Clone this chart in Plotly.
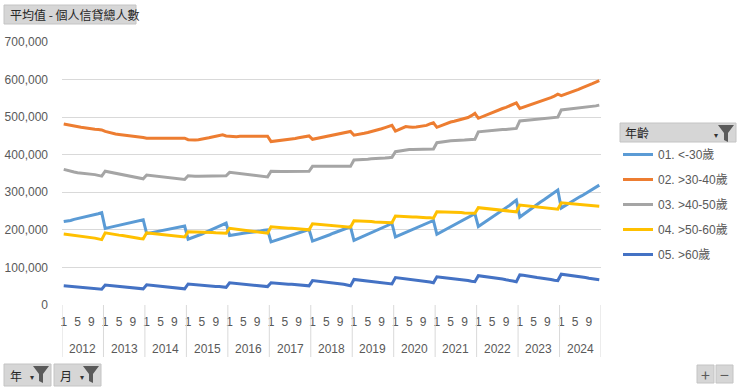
import plotly.graph_objects as go

# ---------------- data (thousands of persons) ----------------
years = [2012, 2013, 2014, 2015, 2016, 2017, 2018, 2019, 2020, 2021, 2022, 2023, 2024]
months = [1, 2, 3, 4, 5, 6, 7, 8, 9, 10, 11, 12]
month_ticks = [1, 5, 9]

age_under30 = [
    222, 223, 225, 228, 230, 232, 234, 236, 239, 241, 243, 246,
    204, 206, 208, 210, 212, 214, 216, 218, 220, 222, 224, 227,
    190, 192, 193, 195, 197, 198, 200, 202, 204, 206, 208, 210,
    175, 178, 181, 185, 189, 193, 197, 201, 205, 209, 213, 218,
    185, 187, 188, 189, 191, 192, 193, 195, 196, 197, 199, 200,
    168, 171, 174, 177, 180, 183, 186, 189, 192, 195, 198, 201,
    170, 173, 177, 180, 184, 187, 191, 194, 198, 201, 205, 208,
    172, 176, 180, 184, 188, 192, 196, 200, 204, 208, 213, 217,
    181, 185, 189, 193, 197, 201, 205, 209, 213, 217, 221, 225,
    188, 193, 198, 203, 208, 213, 218, 223, 228, 233, 238, 243,
    209, 215, 221, 228, 234, 241, 247, 253, 259, 265, 272, 279,
    234, 241, 247, 254, 261, 267, 274, 280, 287, 293, 300, 306,
    258, 264, 269, 275, 280, 286, 291, 297, 302, 308, 313, 319,
]
age_30_40 = [
    482, 480, 477, 476, 475, 473, 472, 470, 469, 468, 467, 466,
    462, 459, 457, 455, 454, 453, 452, 451, 450, 449, 447, 446,
    444, 444, 443, 443, 443, 443, 443, 443, 443, 443, 443, 444,
    440, 439, 439, 440, 441, 443, 445, 447, 449, 451, 453, 450,
    449, 448, 448, 449, 449, 449, 449, 449, 449, 449, 450, 449,
    435, 436, 437, 438, 440, 441, 442, 443, 445, 446, 448, 450,
    441, 443, 444, 446, 448, 450, 452, 454, 456, 458, 460, 462,
    452, 453, 455, 457, 459, 461, 463, 466, 469, 472, 475, 478,
    463, 467, 471, 475, 474, 473, 474, 475, 476, 478, 482, 485,
    473, 477, 481, 485, 487, 489, 491, 493, 495, 499, 504, 510,
    497, 501, 505, 508, 512, 516, 519, 523, 526, 530, 534, 538,
    523, 526, 529, 532, 535, 538, 541, 544, 548, 552, 556, 561,
    557, 560, 564, 567, 571, 574, 578, 581, 585, 589, 593, 597,
]
age_40_50 = [
    361, 358, 356, 354, 352, 351, 351, 350, 349, 347, 345, 343,
    356, 354, 352, 350, 348, 346, 344, 343, 341, 339, 337, 336,
    346, 345, 345, 344, 342, 341, 340, 338, 337, 336, 335, 334,
    344, 343, 343, 343, 343, 343, 343, 343, 343, 344, 344, 344,
    353, 352, 352, 351, 350, 348, 347, 346, 344, 343, 342, 341,
    356, 355, 355, 355, 355, 355, 355, 355, 355, 355, 356, 356,
    369, 369, 368, 368, 368, 368, 368, 368, 368, 368, 368, 369,
    386, 386, 387, 387, 388, 389, 389, 390, 391, 391, 392, 393,
    408, 410, 412, 414, 414, 414, 414, 414, 414, 414, 415, 415,
    432, 434, 435, 436, 437, 437, 438, 438, 439, 440, 440, 441,
    461, 462, 463, 464, 465, 465, 466, 467, 467, 468, 469, 470,
    490, 491, 492, 493, 494, 494, 495, 496, 497, 498, 499, 500,
    519, 520, 521, 522, 523, 524, 525, 526, 527, 529, 530, 532,
]
age_50_60 = [
    189, 188, 187, 186, 185, 184, 183, 181, 180, 178, 176, 174,
    192, 190, 189, 187, 186, 185, 183, 182, 180, 179, 177, 176,
    192, 191, 190, 189, 188, 187, 186, 185, 184, 183, 182, 181,
    195, 195, 194, 194, 194, 193, 193, 193, 192, 192, 191, 191,
    204, 203, 202, 201, 200, 199, 198, 197, 195, 194, 193, 191,
    208, 207, 207, 206, 205, 204, 204, 203, 202, 201, 201, 200,
    216, 215, 215, 214, 213, 212, 211, 210, 210, 209, 208, 207,
    224, 224, 223, 223, 222, 222, 221, 221, 220, 220, 219, 219,
    237, 236, 236, 235, 235, 234, 234, 233, 233, 232, 232, 231,
    248, 248, 247, 247, 247, 246, 246, 246, 245, 245, 244, 244,
    259, 258, 257, 256, 255, 254, 253, 252, 251, 250, 249, 248,
    266, 265, 264, 263, 262, 261, 260, 259, 258, 257, 256, 255,
    272, 271, 270, 269, 268, 268, 267, 266, 265, 265, 264, 263,
]
age_over60 = [
    51, 50, 50, 49, 48, 48, 47, 46, 45, 44, 43, 42,
    53, 52, 51, 50, 50, 49, 48, 47, 46, 45, 44, 43,
    54, 53, 52, 51, 50, 49, 48, 47, 46, 45, 44, 43,
    56, 55, 54, 54, 53, 52, 51, 50, 49, 49, 48, 47,
    59, 58, 57, 56, 55, 54, 53, 52, 52, 51, 50, 49,
    59, 58, 58, 57, 56, 55, 55, 54, 53, 52, 52, 51,
    65, 64, 63, 62, 61, 60, 59, 58, 57, 55, 53, 51,
    68, 67, 66, 65, 64, 63, 62, 61, 60, 58, 57, 56,
    73, 72, 70, 69, 68, 67, 66, 65, 63, 62, 61, 59,
    75, 74, 73, 72, 71, 70, 68, 67, 66, 65, 63, 62,
    78, 77, 75, 74, 73, 71, 70, 69, 67, 66, 64, 62,
    80, 79, 77, 76, 75, 73, 72, 71, 69, 68, 66, 65,
    82, 81, 80, 78, 77, 76, 74, 73, 71, 70, 68, 67,
]

series_names = ["01. <-30歲", "02. >30-40歲", "03. >40-50歲", "04. >50-60歲", "05. >60歲"]
series_values = [age_under30, age_30_40, age_40_50, age_50_60, age_over60]
series_colors = ["#5B9BD5", "#ED7D31", "#A5A5A5", "#FFC000", "#4472C4"]

y_ticks = [0, 100000, 200000, 300000, 400000, 500000, 600000, 700000]

# ---------------- geometry helpers ----------------
W, H = 740, 391
L, R, T, B = 62, 601, 42, 305


def px(xp):
    return (xp - L) / (R - L)


def py(yp):
    return (B - yp) / (B - T)


FONT = "Liberation Sans, Noto Sans CJK TC, sans-serif"
CJK = "Noto Sans CJK TC, sans-serif"
GREY_TXT = "#595959"

idx = list(range(len(years) * len(months)))
month_of = [months[i % 12] for i in idx]

fig = go.Figure()
for name, vals, col in zip(series_names, series_values, series_colors):
    fig.add_trace(go.Scatter(
        x=idx, y=[v * 1000 for v in vals], mode="lines", name=name,
        legendgroup=name,
        line=dict(color=col, width=3),
    ))

tickvals = [i for i in idx if month_of[i] in month_ticks]
ticktext = [str(month_of[i]) for i in tickvals]

shapes = []
annotations = []

# year separators and year labels
for k, yr in enumerate(years + [None]):
    xb = k * 12 - 0.5
    shapes.append(dict(type="line", xref="x", yref="paper", x0=xb, x1=xb,
                       y0=0, y1=py(357), line=dict(color="#d9d9d9", width=1)))
    if yr is not None:
        annotations.append(dict(x=k * 12 + 5.5, y=py(349), xref="x", yref="paper",
                                text=str(yr), showarrow=False,
                                font=dict(family=FONT, size=12, color=GREY_TXT),
                                xanchor="center", yanchor="middle"))


def button(x0, y0, x1, y1):
    shapes.append(dict(type="rect", xref="paper", yref="paper",
                       x0=px(x0), x1=px(x1), y0=py(y0), y1=py(y1),
                       fillcolor="#d6d6d6", line=dict(color="#c4c4c4", width=1),
                       layer="above"))


def funnel(x0, y0):
    pts = [(x0, y0), (x0 + 16, y0), (x0 + 10, y0 + 8), (x0 + 10, y0 + 17),
           (x0 + 6, y0 + 15), (x0 + 6, y0 + 8)]
    path = "M " + " L ".join(f"{px(a):.5f},{py(b):.5f}" for a, b in pts) + " Z"
    shapes.append(dict(type="path", xref="paper", yref="paper", path=path,
                       fillcolor="#5a5a5a", line=dict(width=0), layer="above"))


def label(x, y, text, size=12, color="#262626", anchor="left"):
    annotations.append(dict(x=px(x), y=py(y), xref="paper", yref="paper", text=text,
                            showarrow=False, xanchor=anchor, yanchor="middle",
                            font=dict(family=CJK, size=size, color=color)))


# title field button
button(4, 5, 136, 24)
label(8, 14.5, "平均值 - 個人信貸總人數", 12)

# legend header
button(620, 123, 736, 142)
label(623, 132.5, "年齡", 12)
label(712, 134, "▾", 8, "#333333")
funnel(718, 125)

# bottom-left field buttons
button(4, 364, 51, 386)
label(8, 375, "年", 12)
label(28, 376.5, "▾", 8, "#333333")
funnel(33, 366)
button(54, 364, 101, 386)
label(58, 375, "月", 12)
label(78, 376.5, "▾", 8, "#333333")
funnel(83, 366)

# +/- buttons
button(697, 365, 714, 383)
button(716, 365, 733, 383)
label(705.5, 373.5, "+", 16, "#5a5a5a", "center")
label(724.5, 373.5, "−", 16, "#5a5a5a", "center")

fig.update_layout(
    width=W, height=H,
    margin=dict(l=L, r=W - R, t=T, b=H - B, pad=0, autoexpand=False),
    paper_bgcolor="white", plot_bgcolor="white",
    showlegend=True,
    legend=dict(xref="container", yref="container", x=618 / W, y=1 - 140 / H,
                xanchor="left", yanchor="top", tracegroupgap=6,
                font=dict(family=FONT, size=12, color=GREY_TXT),
                itemwidth=30, bgcolor="rgba(0,0,0,0)"),
    shapes=shapes, annotations=annotations,
    xaxis=dict(range=[-0.5, len(idx) - 0.5], tickmode="array", tickvals=tickvals,
               ticktext=ticktext, showgrid=False, zeroline=False, showline=False,
               ticks="", ticklabelstandoff=8, automargin=False,
               tickfont=dict(family=FONT, size=12, color=GREY_TXT)),
    yaxis=dict(range=[0, 700000], tickmode="array", tickvals=y_ticks,
               tickformat=",d", showgrid=True, gridcolor="#d9d9d9", gridwidth=1,
               zeroline=True, zerolinecolor="white", zerolinewidth=2,
               showline=False, ticks="", ticklabelstandoff=13, automargin=False,
               tickfont=dict(family=FONT, size=12, color=GREY_TXT)),
)

fig.write_html("out.html", config={"displayModeBar": False},
               post_script="document.body.style.margin='0';document.body.style.padding='0';")
